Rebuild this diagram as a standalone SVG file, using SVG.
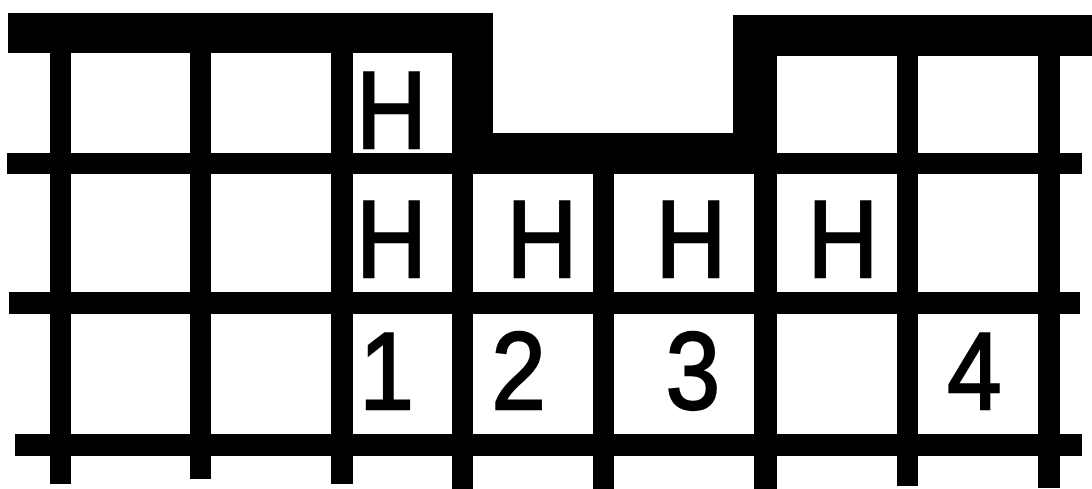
<svg xmlns="http://www.w3.org/2000/svg" width="1092" height="489" viewBox="0 0 1092 489">
<style>
.b{fill:#000}
.t{font-family:"Liberation Sans",Arial,sans-serif;font-size:110px;fill:#000;stroke:#000;stroke-width:2.5;text-anchor:middle}
</style>
<rect width="1092" height="489" fill="#fff"/>
<g id="grid">
<!-- top bars and notch -->
<rect class="b" x="8" y="13" width="485" height="40"/>
<rect class="b" x="733" y="15" width="359" height="41"/>
<rect class="b" x="452" y="13" width="41" height="160"/>
<rect class="b" x="733" y="15" width="44" height="158"/>
<rect class="b" x="452" y="133" width="325" height="41"/>
<!-- row lines -->
<rect class="b" x="7" y="153" width="1075" height="21"/>
<rect class="b" x="9" y="292" width="1071" height="22"/>
<rect class="b" x="15" y="434" width="1067" height="22"/>
<!-- columns -->
<rect class="b" x="50" y="13" width="21" height="471"/>
<rect class="b" x="190" y="13" width="21" height="466"/>
<rect class="b" x="331" y="13" width="22" height="471"/>
<rect class="b" x="452" y="13" width="21" height="476"/>
<rect class="b" x="593" y="133" width="21" height="356"/>
<rect class="b" x="754" y="15" width="23" height="474"/>
<rect class="b" x="897" y="15" width="21" height="471"/>
<rect class="b" x="1038" y="15" width="22" height="473"/>
</g>
<g id="labels">
<g id="h-top"><text class="t" transform="translate(391.5 147.8) scale(0.887 1)">H</text></g>
<g id="h-1"><text class="t" transform="translate(391.5 277.3) scale(0.887 1)">H</text></g>
<g id="h-2"><text class="t" transform="translate(542 277.3) scale(0.887 1)">H</text></g>
<g id="h-3"><text class="t" transform="translate(691 277.3) scale(0.887 1)">H</text></g>
<g id="h-4"><text class="t" transform="translate(843 277.3) scale(0.887 1)">H</text></g>
<g id="n-1"><text class="t" transform="translate(386.6 409) scale(0.887 1)">1</text></g>
<g id="n-2"><text class="t" transform="translate(518.7 409) scale(0.887 1)">2</text></g>
<g id="n-3"><text class="t" transform="translate(693 409) scale(0.887 1)">3</text></g>
<g id="n-4"><text class="t" transform="translate(974.5 409) scale(0.887 1)">4</text></g>
</g>
</svg>
